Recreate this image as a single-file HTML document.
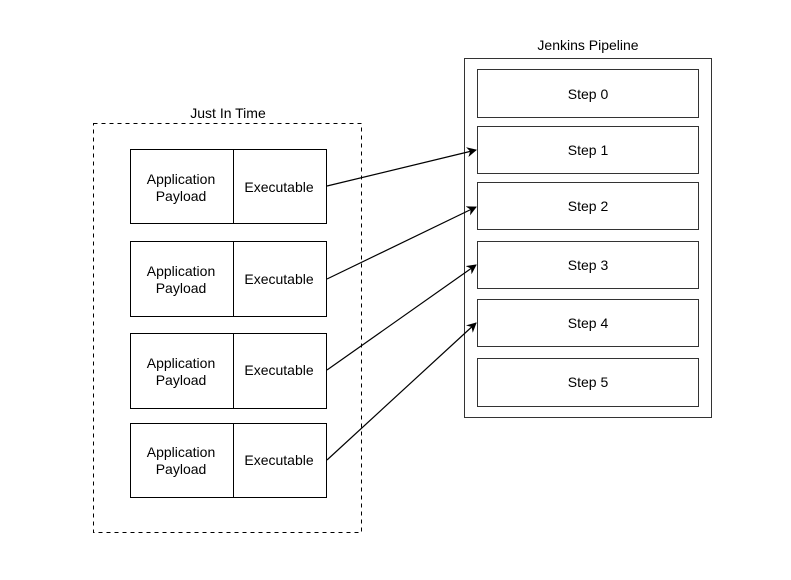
<!DOCTYPE html>
<html><head><meta charset="utf-8"><style>
html,body{margin:0;padding:0;background:#fff;}
svg{display:block;}
text{font-family:"Liberation Sans",Arial,sans-serif;font-size:14px;fill:#000;}
</style></head><body>
<svg width="791" height="580" viewBox="0 0 791 580" xmlns="http://www.w3.org/2000/svg">
<defs><marker id="a" markerWidth="10" markerHeight="10" refX="9" refY="5" orient="auto" markerUnits="userSpaceOnUse"><path d="M0,0 L10,5 L0,10 L3,5 Z" fill="#000"/></marker></defs>
<text x="228" y="118" text-anchor="middle">Just In Time</text>
<rect x="93.5" y="123.5" width="268" height="409" fill="none" stroke="#000" stroke-dasharray="4,4"/>
<g fill="#fff" stroke="#000" stroke-width="1">
<rect x="130.5" y="149.5" width="196" height="74"/><line x1="233.5" y1="149.5" x2="233.5" y2="223.5"/>
<rect x="130.5" y="241.5" width="196" height="75"/><line x1="233.5" y1="241.5" x2="233.5" y2="316.5"/>
<rect x="130.5" y="333.5" width="196" height="75"/><line x1="233.5" y1="333.5" x2="233.5" y2="408.5"/>
<rect x="130.5" y="423.5" width="196" height="74"/><line x1="233.5" y1="423.5" x2="233.5" y2="497.5"/>
</g>
<g text-anchor="middle">
<text x="181" y="184">Application</text><text x="181" y="201">Payload</text><text x="279" y="192">Executable</text>
<text x="181" y="276">Application</text><text x="181" y="293">Payload</text><text x="279" y="284">Executable</text>
<text x="181" y="368">Application</text><text x="181" y="385">Payload</text><text x="279" y="375">Executable</text>
<text x="181" y="457">Application</text><text x="181" y="474">Payload</text><text x="279" y="465">Executable</text>
</g>
<text x="588" y="50" text-anchor="middle">Jenkins Pipeline</text>
<rect x="464.5" y="58.5" width="247" height="359" fill="#fff" stroke="#333"/>
<g fill="#fff" stroke="#333">
<rect x="477.5" y="69.5" width="221" height="48"/>
<rect x="477.5" y="126.5" width="221" height="47"/>
<rect x="477.5" y="182.5" width="221" height="47"/>
<rect x="477.5" y="241.5" width="221" height="47"/>
<rect x="477.5" y="299.5" width="221" height="47"/>
<rect x="477.5" y="358.5" width="221" height="48"/>
</g>
<g text-anchor="middle">
<text x="588" y="99">Step 0</text><text x="588" y="155">Step 1</text><text x="588" y="211">Step 2</text>
<text x="588" y="270">Step 3</text><text x="588" y="328">Step 4</text><text x="588" y="387">Step 5</text>
</g>
<g stroke="#000" stroke-width="1.2" fill="none" marker-end="url(#a)">
<line x1="327" y1="186" x2="476" y2="150"/>
<line x1="327" y1="279" x2="476" y2="207"/>
<line x1="327" y1="370" x2="476" y2="265"/>
<line x1="327" y1="460" x2="476" y2="323"/>
</g>
</svg>
</body></html>
